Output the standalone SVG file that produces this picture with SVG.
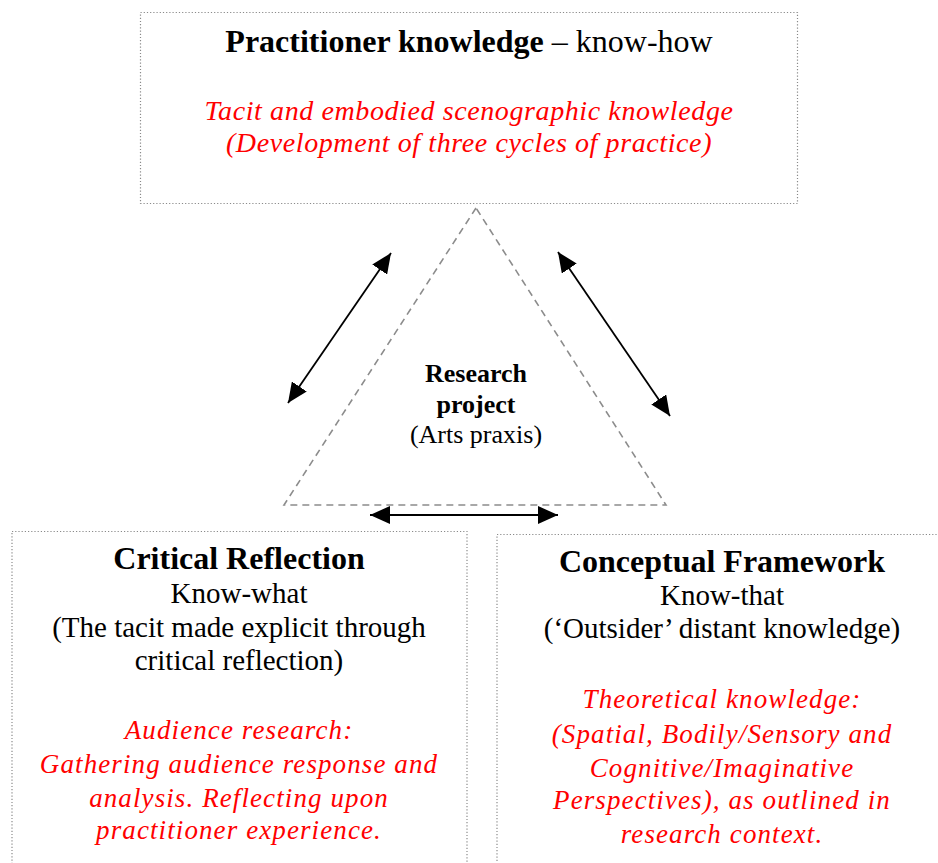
<svg xmlns="http://www.w3.org/2000/svg" width="938" height="863" viewBox="0 0 938 863">
  <style>
    .box { fill: #fff; stroke: #8a8a8a; stroke-width: 1.2; stroke-dasharray: 1.2 2; }
    .tri { fill: none; stroke: #8c8c8c; stroke-width: 1.6; stroke-dasharray: 7 5; }
    .con { stroke: #000; stroke-width: 1.8; fill: none; marker-start: url(#head); marker-end: url(#head); }
    text { font-family: "Liberation Serif", "Times New Roman", serif; text-anchor: middle; fill: #000; }
    .h { font-weight: bold; font-size: 32px; }
    .n { font-size: 29px; }
    .r { fill: #ff0000; font-style: italic; font-size: 27px; letter-spacing: 1.1px; }
    .rt { fill: #ff0000; font-style: italic; font-size: 28px; letter-spacing: 0.6px; }
    .p { font-size: 26px; }
  </style>
  <defs>
    <marker id="head" viewBox="0 0 20 18" refX="20" refY="9" markerWidth="20" markerHeight="18" orient="auto-start-reverse" markerUnits="userSpaceOnUse">
      <path d="M0,0 L20,9 L0,18 Z" fill="#000"/>
    </marker>
  </defs>

  <g id="practitioner">
    <rect class="box" x="140.5" y="12.5" width="657" height="191"/>
    <text x="469" y="52" style="font-size:32px"><tspan font-weight="bold">Practitioner knowledge</tspan> – know-how</text>
    <text class="rt" x="469" y="120">Tacit and embodied scenographic knowledge</text>
    <text class="rt" x="469" y="152">(Development of three cycles of practice)</text>
  </g>

  <g id="critical-reflection">
    <rect class="box" x="12" y="531.5" width="455" height="340"/>
    <text class="h" x="239" y="569">Critical Reflection</text>
    <text class="n" x="239" y="603">Know-what</text>
    <text class="n" x="239" y="637">(The tacit made explicit through</text>
    <text class="n" x="239" y="670">critical reflection)</text>
    <text class="r" x="239" y="739">Audience research:</text>
    <text class="r" x="239" y="773">Gathering audience response and</text>
    <text class="r" x="239" y="807">analysis. Reflecting upon</text>
    <text class="r" x="239" y="839">practitioner experience.</text>
  </g>

  <g id="conceptual-framework">
    <rect class="box" x="497" y="534.5" width="460" height="340"/>
    <text class="h" x="722" y="572">Conceptual Framework</text>
    <text class="n" x="722" y="605">Know-that</text>
    <text class="n" x="722" y="638">(‘Outsider’ distant knowledge)</text>
    <text class="r" x="722" y="708">Theoretical knowledge:</text>
    <text class="r" x="722" y="743">(Spatial, Bodily/Sensory and</text>
    <text class="r" x="722" y="777">Cognitive/Imaginative</text>
    <text class="r" x="722" y="809">Perspectives), as outlined in</text>
    <text class="r" x="722" y="843">research context.</text>
  </g>

  <g id="research-project">
    <polygon class="tri" points="476,208 284,505 666,505"/>
    <text class="p" x="476" y="382" font-weight="bold">Research</text>
    <text class="p" x="476" y="413" font-weight="bold">project</text>
    <text class="p" x="476" y="443">(Arts praxis)</text>
  </g>

  <g id="connectors">
    <line class="con" x1="288" y1="403" x2="391" y2="253"/>
    <line class="con" x1="558" y1="252" x2="670" y2="416"/>
    <line class="con" x1="370" y1="515" x2="558" y2="515"/>
  </g>
</svg>
